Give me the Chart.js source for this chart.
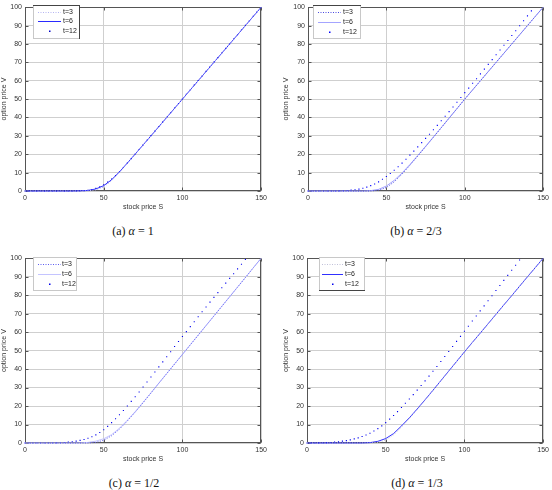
<!DOCTYPE html>
<html>
<head>
<meta charset="utf-8">
<script src="https://cdn.jsdelivr.net/npm/chart.js@4.4.0/dist/chart.umd.min.js"></script>
<style>
  body { margin: 0; background: #fff; width: 552px; height: 490px; position: relative; overflow: hidden; }
  canvas { position: absolute; }
  .cap { position: absolute; width: 140px; text-align: center; font-family: "Liberation Serif", "DejaVu Serif", serif; font-size: 12px; color: #111; line-height: 14px; }
</style>
</head>
<body>
<canvas id="ca" width="270" height="212" style="left:0;top:0"></canvas>
<canvas id="cb" width="270" height="212" style="left:282px;top:0"></canvas>
<canvas id="cc" width="270" height="213" style="left:0;top:251px"></canvas>
<canvas id="cd" width="270" height="213" style="left:282px;top:251px"></canvas>
<div class="cap" style="left:63px;top:224px">(a) <i>α</i> = 1</div>
<div class="cap" style="left:346px;top:224px">(b) <i>α</i> = 2/3</div>
<div class="cap" style="left:64px;top:476px">(c) <i>α</i> = 1/2</div>
<div class="cap" style="left:347px;top:476px">(d) <i>α</i> = 1/3</div>
<script>
// stock price grids
const sLine = [0,5,10,15,20,25,30,35,40,45,50,55,60,65,70,75,80,85,90,95,100,105,110,115,120,125,130,135,140,145,150];
const sDot = [0,2.5,5,7.5,10,12.5,15,17.5,20,22.5,25,27.5,30,32.5,35,37.5,40,42.5,45,47.5,50,52.5,55,57.5,60,62.5,65,67.5,70,72.5,75,77.5,80,82.5,85,87.5,90,92.5,95,97.5,100,102.5,105,107.5,110,112.5,115,117.5,120,122.5,125,127.5,130,132.5,135,137.5,140,142.5,145,147.5,150];

const xTicks = [0, 50, 100, 150];
const yTicks = [0, 10, 20, 30, 40, 50, 60, 70, 80, 90, 100];
const legendLabels = ['t=3', 't=6', 't=12'];

// (a) alpha = 1
const a3 = [0,0,0,0,0,0,0,0,0.1,0.6,2.2,5.6,10.1,15.0,20.0,25.0,30,35,40,45,50,55,60,65,70,75,80,85,90,95,100];
const a6 = [0,0,0,0,0,0,0,0.1,0.3,1.1,2.9,6.1,10.4,15.2,20.1,25.05,30,35,40,45,50,55,60,65,70,75,80,85,90,95,100];
const a12 = [0,0,0,0,0,0,0,0,0,0,0,0,0,0.05,0.1,0.2,0.4,0.8,1.4,2.3,3.4,4.8,6.5,8.4,10.5,12.8,15.2,17.6,20.1,22.6,25.1,27.6,30.1,32.6,35.1,37.6,40.1,42.6,45.1,47.6,50.1,52.6,55.1,57.6,60.1,62.6,65.1,67.6,70.1,72.6,75.1,77.6,80.1,82.6,85.1,87.6,90.1,92.6,95.1,97.6,100];

// (b) alpha = 2/3
const b3 = [0,0,0,0,0,0,0,0,0,0.4,1.9,5.0,9.2,14.0,19.0,24.1,29.2,34.4,39.6,44.8,50,55,60,65,70,75,80,85,90,95,100];
const b6 = [0,0,0,0,0,0,0,0,0.2,0.9,2.7,5.8,9.8,14.4,19.3,24.3,29.4,34.5,39.7,44.8,50,55,60,65,70,75,80,85,90,95,100];
const b12 = [0,0,0,0,0,0,0,0.05,0.1,0.2,0.3,0.5,0.7,1.0,1.5,2.1,2.9,3.8,5.0,6.4,7.9,9.5,11.3,13.2,15.2,17.3,19.5,21.7,24.0,26.3,28.6,30.9,33.3,35.7,38.2,40.7,43.2,45.7,48.3,50.9,53.5,56.0,58.6,61.1,63.7,66.3,68.9,71.5,74.1,76.7,79.3,81.9,84.6,87.2,89.9,92.6,95.3,98.0,100.8,103.5,106.2];

// (c) alpha = 1/2
const c3 = [0,0,0,0,0,0,0,0,0,0.3,1.5,3.9,7.5,11.9,16.7,21.8,27.0,32.3,37.5,42.7,47.9,53.1,58.3,63.5,68.7,73.9,79.1,84.3,89.5,94.8,100];
const c6 = [0,0,0,0,0,0,0,0.05,0.3,1.0,2.3,4.5,8.0,12.3,17.0,22.0,27.2,32.4,37.6,42.8,48.0,53.2,58.4,63.6,68.8,74.0,79.2,84.4,89.6,94.8,100];
const c12 = [0,0,0,0,0,0,0,0.05,0.1,0.2,0.3,0.5,0.7,1.0,1.4,1.9,2.6,3.4,4.4,5.7,7.2,9.0,11.0,13.1,15.3,17.6,20.0,22.5,25.0,27.6,30.3,33.0,35.7,38.4,41.2,43.9,46.7,49.4,52.2,54.9,57.6,60.3,63.0,65.6,68.3,71.0,73.6,76.2,78.8,81.4,84.0,86.5,89.1,91.6,94.2,96.7,99.3,101.8,104.4,106.9,109.5];

// (d) alpha = 1/3
const d3 = [0,0,0,0,0,0,0,0,0,0.3,1.6,4.4,8.6,13.2,18.1,23.2,28.4,33.6,38.8,44.0,49.2,54.3,59.4,64.5,69.6,74.7,79.7,84.8,89.9,94.9,100];
const d6 = [0,0,0,0,0,0,0,0,0.2,0.9,2.4,5.1,9.2,13.6,18.4,23.4,28.5,33.7,38.9,44.1,49.3,54.4,59.4,64.5,69.6,74.7,79.7,84.8,89.9,94.9,100];
const d12 = [0,0,0.02,0.05,0.1,0.2,0.3,0.5,0.7,1.0,1.3,1.7,2.2,2.8,3.5,4.3,5.3,6.5,7.8,9.3,11.0,12.9,14.9,17.0,19.2,21.5,23.8,26.2,28.6,31.1,33.6,36.2,38.8,41.4,44.1,46.8,49.5,52.2,55.0,57.7,60.5,63.2,66.0,68.7,71.5,74.2,77.0,79.7,82.5,85.2,88.0,90.7,93.5,96.2,99.0,101.7,104.5,107.2,110.0,112.7,115.5];

const pts = (xs, ys) => xs.map((x, i) => ({ x: x, y: ys[i] }));

// box, inward ticks and the legend, drawn like the matlab figure
const frame = {
  id: 'frame',
  beforeDatasetsDraw(chart) {
    const { ctx, chartArea: a } = chart;
    const x = chart.scales.x, y = chart.scales.y;
    const l = Math.round(a.left) + 0.5, r = Math.round(a.right) - 0.5;
    const t = Math.round(a.top) + 0.5, b = Math.round(a.bottom) - 0.5;
    ctx.save();
    ctx.strokeStyle = '#555';
    ctx.lineWidth = 1;
    ctx.strokeRect(l, t, r - l, b - t);
    ctx.beginPath();
    xTicks.forEach(v => {
      const px = Math.round(x.getPixelForValue(v)) + 0.5;
      ctx.moveTo(px, b); ctx.lineTo(px, b - 3);
      ctx.moveTo(px, t); ctx.lineTo(px, t + 3);
    });
    yTicks.forEach(v => {
      const py = Math.round(y.getPixelForValue(v)) + 0.5;
      ctx.moveTo(l, py); ctx.lineTo(l + 3, py);
      ctx.moveTo(r, py); ctx.lineTo(r - 3, py);
    });
    ctx.stroke();
    ctx.restore();
  },
  afterDatasetsDraw(chart, args, o) {
    const ctx = chart.ctx;
    const [x0, y0, x1, y1] = o.box;
    ctx.save();
    ctx.fillStyle = '#fff';
    ctx.fillRect(x0, y0, x1 - x0, y1 - y0);
    ctx.strokeStyle = '#c8c8c8';
    ctx.lineWidth = 1;
    ctx.strokeRect(x0 + 0.5, y0 + 0.5, x1 - x0 - 1, y1 - y0 - 1);
    ctx.strokeStyle = '#444';
    ctx.beginPath();
    if (o.dark.includes('top')) { ctx.moveTo(x0, y0 + 0.5); ctx.lineTo(x1, y0 + 0.5); }
    if (o.dark.includes('right')) { ctx.moveTo(x1 - 0.5, y0); ctx.lineTo(x1 - 0.5, y1); }
    if (o.dark.includes('bottom')) { ctx.moveTo(x0, y1 - 0.5); ctx.lineTo(x1, y1 - 0.5); }
    ctx.stroke();

    const ds = chart.data.datasets;
    o.rows.forEach((ry, i) => {
      const yy = ry + 0.5;
      if (i < 2) {
        ctx.strokeStyle = ds[i].borderColor;
        ctx.setLineDash(ds[i].borderDash || []);
        ctx.beginPath();
        ctx.moveTo(o.line[0], yy); ctx.lineTo(o.line[1], yy);
        ctx.stroke();
        ctx.setLineDash([]);
      } else {
        ctx.fillStyle = ds[i].pointBackgroundColor;
        ctx.fillRect(Math.round((o.line[0] + o.line[1]) / 2) - 1, ry - 0.5, 1.5, 1.5);
      }
      ctx.fillStyle = '#222';
      ctx.font = '7px "Liberation Sans", Arial, sans-serif';
      ctx.textBaseline = 'middle';
      ctx.fillText(legendLabels[i], o.text, yy);
    });
    ctx.restore();
  }
};

function makeChart(id, v3, v6, v12, col, yWidth, legend) {
  const font = { family: '"Liberation Sans", Arial, sans-serif', size: 7 };
  const clip = { left: 2, right: 2, top: 0, bottom: 3 };
  return new Chart(document.getElementById(id), {
    type: 'line',
    data: {
      datasets: [
        { label: legendLabels[0], data: pts(sLine, v3), borderColor: col[0], borderWidth: 1, borderDash: [1, 1.5], pointRadius: 0, clip: clip },
        { label: legendLabels[1], data: pts(sLine, v6), borderColor: col[1], borderWidth: 1, pointRadius: 0, clip: clip },
        { label: legendLabels[2], data: pts(sDot, v12), showLine: false, pointStyle: 'rect', pointRadius: 0.8, pointBorderWidth: 0, pointBackgroundColor: col[2], borderColor: col[2], clip: clip }
      ]
    },
    options: {
      responsive: false,
      animation: false,
      devicePixelRatio: 1,
      layout: { padding: { top: 4, right: 7, bottom: 0, left: 0 } },
      plugins: { legend: { display: false }, tooltip: { enabled: false }, frame: legend },
      scales: {
        x: {
          type: 'linear', min: 0, max: 150,
          afterBuildTicks: s => { s.ticks = xTicks.map(v => ({ value: v })); },
          afterFit: s => { s.height = 21; },
          grid: { color: '#cfcfcf', borderDash: [1, 2], drawTicks: false },
          border: { display: false },
          ticks: { font: font, color: '#333', padding: 3, maxRotation: 0 },
          title: { display: true, text: 'stock price S', font: font, color: '#333', padding: { top: 0, bottom: 1 } }
        },
        y: {
          type: 'linear', min: 0, max: 100,
          afterBuildTicks: s => { s.ticks = yTicks.map(v => ({ value: v })); },
          afterFit: s => { s.width = yWidth; },
          grid: { color: '#cfcfcf', borderDash: [1, 2], drawTicks: false },
          border: { display: false },
          ticks: { font: font, color: '#333', padding: 3 },
          title: { display: true, text: 'option price V', font: font, color: '#333', padding: { top: 0, bottom: 0 } }
        }
      }
    },
    plugins: [frame]
  });
}

makeChart('ca', a3, a6, a12, ['#b4b4f0', '#2a2aff', '#0000c8'], 25,
  { box: [33, 5, 80, 39], rows: [12, 21, 31], line: [38, 61], text: 63, dark: ['top', 'right'] });
makeChart('cb', b3, b6, b12, ['#4a4ae0', '#a4a4ff', '#0000ff'], 26,
  { box: [31, 5, 79, 39], rows: [12, 22, 32], line: [36, 59], text: 61, dark: ['top'] });
makeChart('cc', c3, c6, c12, ['#5c5cf0', '#c4c4ff', '#0000ee'], 25,
  { box: [33, 6, 77, 40], rows: [13, 23, 33], line: [38, 61], text: 62, dark: [] });
makeChart('cd', d3, d6, d12, ['#c0c0d8', '#3030ff', '#0000ee'], 25,
  { box: [37, 6, 83, 40], rows: [13, 23, 33], line: [40, 61], text: 63, dark: ['bottom'] });
</script>
</body>
</html>
